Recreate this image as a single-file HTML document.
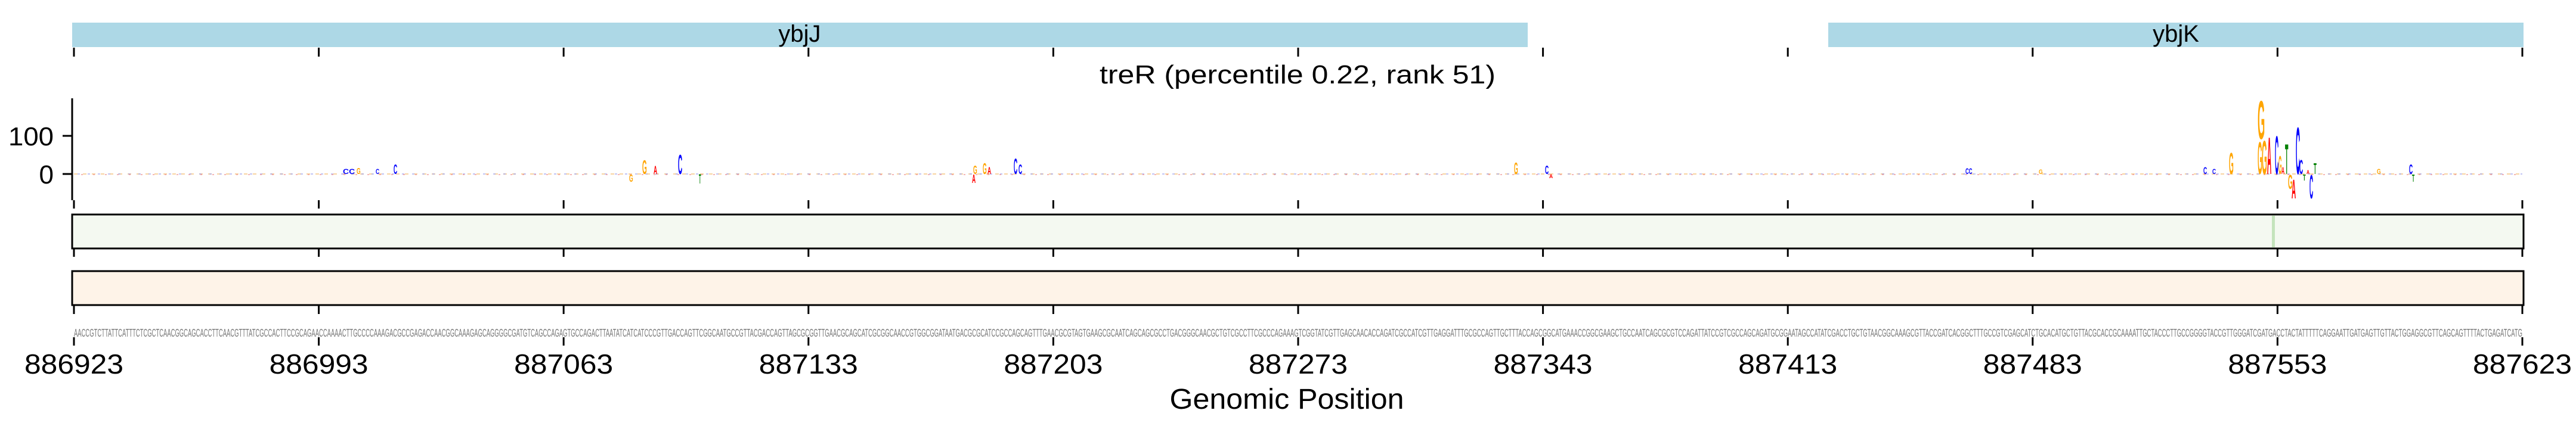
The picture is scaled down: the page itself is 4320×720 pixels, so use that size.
<!DOCTYPE html>
<html><head><meta charset="utf-8"><style>
html,body{margin:0;padding:0;background:#fff;width:4320px;height:720px;overflow:hidden}
svg text{font-family:"Liberation Sans",sans-serif}
</style></head><body>
<svg width="4320" height="720" viewBox="0 0 4320 720" xmlns="http://www.w3.org/2000/svg">
<!-- gene bars -->
<rect x="121" y="38" width="2441" height="41" fill="#add8e6"/>
<rect x="3066" y="38" width="1166" height="41" fill="#add8e6"/>
<text x="1341" y="70" font-size="40" text-anchor="middle">ybjJ</text>
<text x="3649" y="70" font-size="40" text-anchor="middle">ybjK</text>
<!-- title -->
<text x="2176" y="140" font-size="44" text-anchor="middle" textLength="664" lengthAdjust="spacingAndGlyphs">treR (percentile 0.22, rank 51)</text>
<!-- ticks -->
<g stroke="#000" stroke-width="3">
<path d="M124 80V95M534.6 80V95M945.2 80V95M1355.8 80V95M1766.4 80V95M2177 80V95M2587.6 80V95M2998.2 80V95M3408.8 80V95M3819.4 80V95M4230 80V95"/>
<path d="M124 336V350M534.6 336V350M945.2 336V350M1355.8 336V350M1766.4 336V350M2177 336V350M2587.6 336V350M2998.2 336V350M3408.8 336V350M3819.4 336V350M4230 336V350"/>
<path d="M124 417V431M534.6 417V431M945.2 417V431M1355.8 417V431M1766.4 417V431M2177 417V431M2587.6 417V431M2998.2 417V431M3408.8 417V431M3819.4 417V431M4230 417V431"/>
<path d="M124 513V527M534.6 513V527M945.2 513V527M1355.8 513V527M1766.4 513V527M2177 513V527M2587.6 513V527M2998.2 513V527M3408.8 513V527M3819.4 513V527M4230 513V527"/>
<path d="M124 566V580M534.6 566V580M945.2 566V580M1355.8 566V580M1766.4 566V580M2177 566V580M2587.6 566V580M2998.2 566V580M3408.8 566V580M3819.4 566V580M4230 566V580"/>
<!-- y axis -->
<path d="M121 165V336M105 228H121M105 292H121"/>
</g>
<text x="90" y="244" font-size="44" text-anchor="end" textLength="76" lengthAdjust="spacingAndGlyphs">100</text>
<text x="90" y="308" font-size="44" text-anchor="end">0</text>
<!-- logo baseline noise -->
<line x1="124" y1="292" x2="4230" y2="292" stroke="#f6c27a" stroke-width="2" stroke-dasharray="6 9" opacity="0.7"/>
<line x1="130" y1="292" x2="4230" y2="292" stroke="#9aa0f0" stroke-width="2" stroke-dasharray="4 13" opacity="0.6"/>
<line x1="136" y1="293" x2="4230" y2="293" stroke="#f08a8a" stroke-width="2" stroke-dasharray="3 17" opacity="0.6"/>
<g font-size="10" font-weight="bold">
<text transform="translate(3786,233) scale(1.57,9.19)" fill="orange">G</text>
<text transform="translate(3786,292) scale(1,7.68)" fill="orange">G</text>
<text transform="translate(3793,292) scale(1.14,8.09)" fill="orange">G</text>
<text transform="translate(3802,292) scale(1,8.78)" fill="red">A</text>
<text transform="translate(3815,292) scale(0.86,9.19)" fill="blue">C</text>
<text transform="translate(3821,292) scale(0.71,4.39)" fill="orange">G</text>
<text transform="translate(3826,292) scale(0.71,1.65)" fill="red">A</text>
<text transform="translate(3832,292) scale(0.9,7.13)" fill="green">T</text>
<text transform="translate(3837,317) scale(1,3.43)" fill="orange">G</text>
<text transform="translate(3843,333) scale(1,4.53)" fill="red">A</text>
<text transform="translate(3850,292) scale(1,11.25)" fill="blue">C</text>
<text transform="translate(3856,292) scale(0.86,3.43)" fill="blue">C</text>
<text transform="translate(3862,303) scale(0.8,1.51)" fill="green">T</text>
<text transform="translate(3868,292) scale(0.71,0.96)" fill="red">A</text>
<text transform="translate(3873,333) scale(0.86,5.62)" fill="blue">C</text>
<text transform="translate(3880,292) scale(0.8,2.61)" fill="green">T</text>
<text transform="translate(3738,292) scale(1,5.08)" fill="orange">G</text>
<text transform="translate(3695,292) scale(0.86,1.65)" fill="blue">C</text>
<text transform="translate(3710,292) scale(0.86,1.23)" fill="blue">C</text>
<text transform="translate(1077,292) scale(1,3.29)" fill="orange">G</text>
<text transform="translate(1096,292) scale(0.86,1.92)" fill="red">A</text>
<text transform="translate(1137,292) scale(1,4.66)" fill="blue">C</text>
<text transform="translate(1055,305) scale(0.86,1.78)" fill="orange">G</text>
<text transform="translate(1172,308) scale(0.6,2.19)" fill="green">T</text>
<text transform="translate(1632,292) scale(0.86,2.06)" fill="orange">G</text>
<text transform="translate(1648,292) scale(0.86,2.61)" fill="orange">G</text>
<text transform="translate(1656,292) scale(0.86,1.65)" fill="red">A</text>
<text transform="translate(1630,307) scale(0.86,2.06)" fill="red">A</text>
<text transform="translate(1700,292) scale(0.86,3.7)" fill="blue">C</text>
<text transform="translate(1708,292) scale(0.86,2.33)" fill="blue">C</text>
<text transform="translate(575,292) scale(1.4,1.23)" fill="blue">CC</text>
<text transform="translate(598,292) scale(0.86,1.51)" fill="orange">G</text>
<text transform="translate(630,292) scale(0.86,1.2)" fill="blue">C</text>
<text transform="translate(660,292) scale(0.86,2.33)" fill="blue">C</text>
<text transform="translate(2539,292) scale(0.86,2.74)" fill="orange">G</text>
<text transform="translate(2591,292) scale(0.86,2.06)" fill="blue">C</text>
<text transform="translate(2598,299) scale(0.86,0.96)" fill="red">A</text>
<text transform="translate(3296,292) scale(0.8,1.37)" fill="blue">CC</text>
<text transform="translate(3419,292) scale(0.86,1.1)" fill="orange">G</text>
<text transform="translate(3986,292) scale(0.86,1.23)" fill="orange">G</text>
<text transform="translate(4040,292) scale(0.86,2.33)" fill="blue">C</text>
<text transform="translate(4045,305) scale(0.7,1.78)" fill="green">T</text>
</g>
<!-- heatmaps -->
<rect x="121" y="360" width="4111" height="57" fill="#f4f9f1" stroke="#000" stroke-width="3"/>
<rect x="3810" y="362" width="5" height="53" fill="#c4e4bc"/>
<rect x="121" y="455" width="4111" height="57" fill="#fef3e8" stroke="#000" stroke-width="3"/>
<!-- sequence -->
<text x="124" y="565" font-size="18" fill="#777" textLength="4106" lengthAdjust="spacingAndGlyphs">AACCGTCTTATTCATTTCTCGCTCAACGGCAGCACCTTCAACGTTTATCGCCACTTCCGCAGAACCAAAACTTGCCCCAAAGACGCCGAGACCAACGGCAAAGAGCAGGGGCGATGTCAGCCAGAGTGCCAGACTTAATATCATCATCCCGTTGACCAGTTCGGCAATGCCGTTACGACCAGTTAGCGCGGTTGAACGCAGCATCGCGGCAACCGTGGCGGATAATGACGCGCATCCGCCAGCAGTTTGAACGCGTAGTGAAGCGCAATCAGCAGCGCCTGACGGGCAACGCTGTCGCCTTCGCCCAGAAAGTCGGTATCGTTGAGCAACACCAGATCGCCATCGTTGAGGATTTGCGCCAGTTGCTTTACCAGCGGCATGAAACCGGCGAAGCTGCCAATCAGCGCGTCCAGATTATCCGTCGCCAGCAGATGCGGAATAGCCATATCGACCTGCTGTAACGGCAAAGCGTTACCGATCACGGCTTTGCCGTCGAGCATCTGCACATGCTGTTACGCACCGCAAAATTGCTACCCTTGCCGGGGTACCGTTGGGATCGATGACCTACTATTTTTCAGGAATTGATGAGTTGTTACTGGAGGCGTTCAGCAGTTTTACTGAGATCATG</text>
<!-- x labels -->
<g font-size="46" text-anchor="middle">
<text x="124" y="627" textLength="166" lengthAdjust="spacingAndGlyphs">886923</text>
<text x="534.6" y="627" textLength="166" lengthAdjust="spacingAndGlyphs">886993</text>
<text x="945.2" y="627" textLength="166" lengthAdjust="spacingAndGlyphs">887063</text>
<text x="1355.8" y="627" textLength="166" lengthAdjust="spacingAndGlyphs">887133</text>
<text x="1766.4" y="627" textLength="166" lengthAdjust="spacingAndGlyphs">887203</text>
<text x="2177" y="627" textLength="166" lengthAdjust="spacingAndGlyphs">887273</text>
<text x="2587.6" y="627" textLength="166" lengthAdjust="spacingAndGlyphs">887343</text>
<text x="2998.2" y="627" textLength="166" lengthAdjust="spacingAndGlyphs">887413</text>
<text x="3408.8" y="627" textLength="166" lengthAdjust="spacingAndGlyphs">887483</text>
<text x="3819.4" y="627" textLength="166" lengthAdjust="spacingAndGlyphs">887553</text>
<text x="4230" y="627" textLength="166" lengthAdjust="spacingAndGlyphs">887623</text>
</g>
<text x="2158" y="686" font-size="48" text-anchor="middle" textLength="393" lengthAdjust="spacingAndGlyphs">Genomic Position</text>
</svg>
</body></html>
